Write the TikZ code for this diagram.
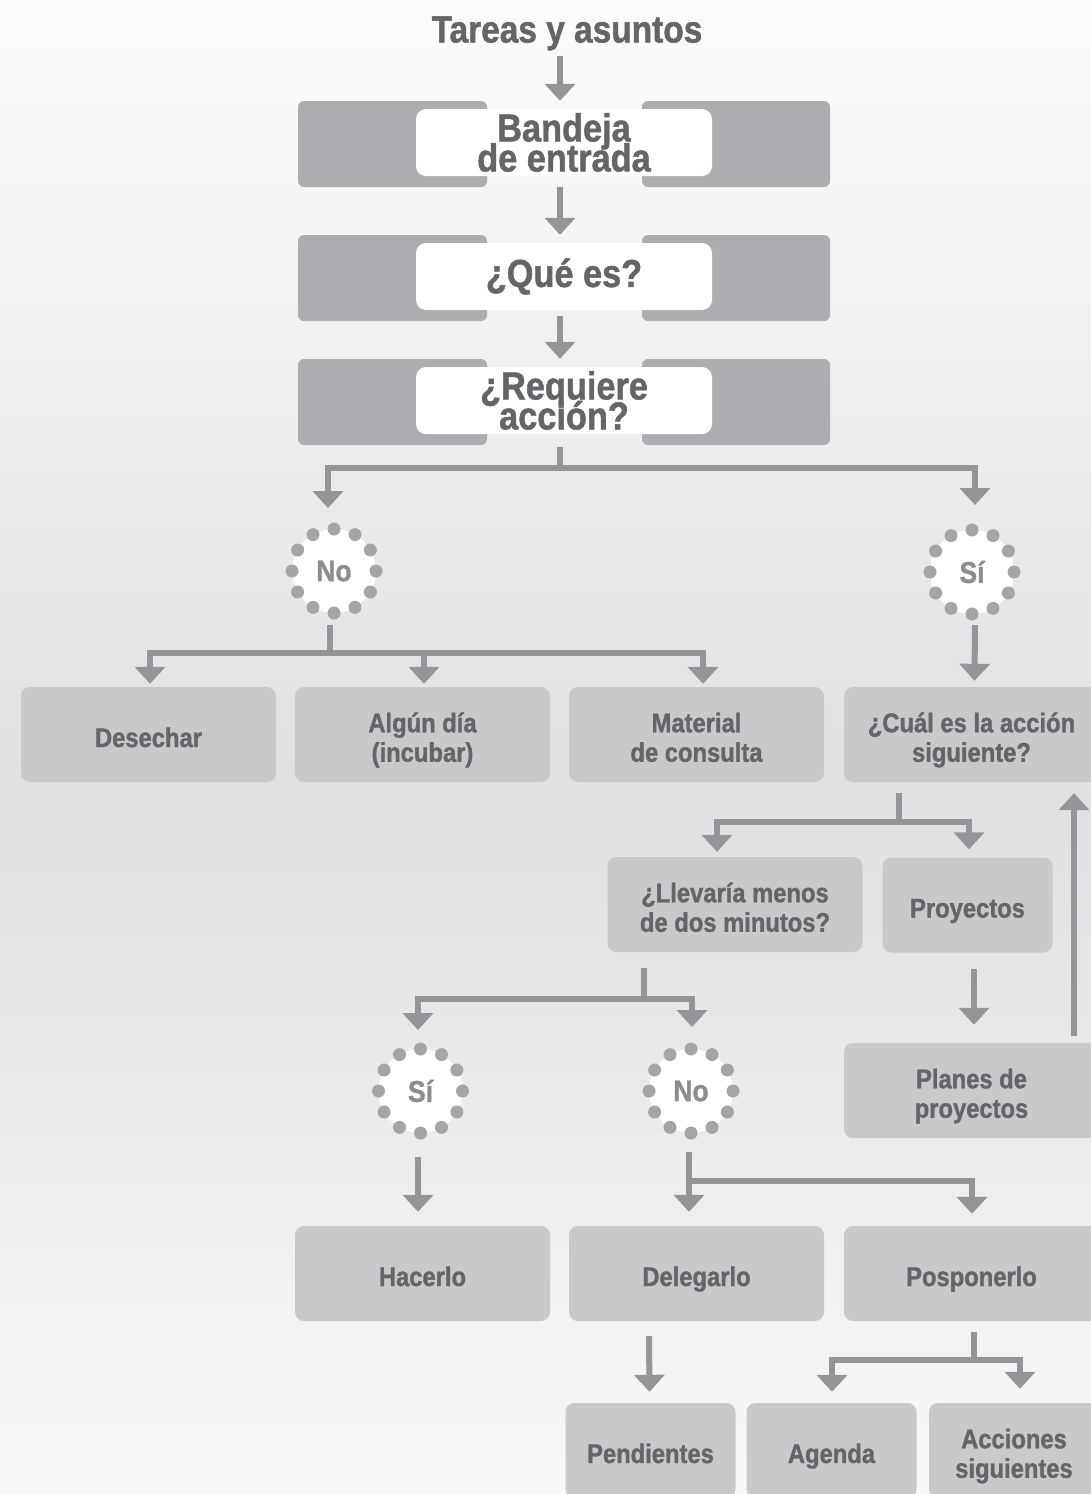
\documentclass[tikz,border=0pt]{standalone}
\usepackage{fontspec}
\setmainfont{Liberation Sans}[FakeStretch=0.88,BoldFeatures={FakeBold=1.2}]
\usetikzlibrary{arrows.meta,calc}
\definecolor{gtink}{RGB}{100,101,104}
\definecolor{gtsoft}{RGB}{139,141,144}
\definecolor{gtbox}{RGB}{200,201,203}
\definecolor{gttray}{RGB}{171,173,176}
\definecolor{gtline}{RGB}{147,149,152}
\definecolor{gtdot}{RGB}{163,165,168}
\definecolor{gttop}{RGB}{252,252,252}
\definecolor{gtmid}{RGB}{223,224,225}
\definecolor{gtbot}{RGB}{248,248,248}
% tight two-line labels: keep the baselineskip even when lines touch
\lineskiplimit=-100pt
\tikzset{
    tray/.style={
        fill=white,rounded corners=10pt,minimum width=296pt,minimum height=67pt,
        inner sep=0pt,align=center,text=gtink,
        font=\fontsize{39}{30}\selectfont\bfseries
    },
    stage/.style={
        fill=gtbox,rounded corners=9pt,minimum width=#1,minimum height=95pt,
        text width=#1,inner sep=0pt,align=flush center,text=gtink,
        font=\fontsize{27}{29.5}\selectfont\bfseries,
        execute at begin node={\rule{0pt}{31pt}},
        execute at end node={\rule[-6pt]{0pt}{6pt}}
    },
    stage/.default=255pt,
    answer/.style={
        circle,fill=white,minimum size=84pt,inner sep=0pt,outer sep=6pt,
        text=gtsoft,font=\fontsize{30}{30}\selectfont\bfseries
    },
    flow/.style={
        draw=gtline,line width=6pt,-{Triangle[width=30pt,length=17pt]}
    }
}

\begin{document}
\begin{tikzpicture}[x=1pt,y=-1pt]

\useasboundingbox (0,0) rectangle (1091,1494);
\clip (0,0) rectangle (1091,1494);
\fill[top color=gttop,bottom color=gtmid] (0,0) rectangle (1091,801);
\fill[top color=gtmid,bottom color=gtbot] (0,800) rectangle (1091,1494);

% title and the three trays
\node[text=gtink,font=\fontsize{38}{38}\selectfont\bfseries,inner sep=0pt,anchor=base]
(title) at (567,42.5) {Tareas y asuntos};

\foreach \y in {144,278,402}{
    \fill[gttray,rounded corners=6pt] (298,\y-43) rectangle (487,\y+43);
    \fill[gttray,rounded corners=6pt] (642,\y-43) rectangle (830,\y+43);
}
\node[tray] (bandeja) at (564,142.5) {Bandeja\\de entrada};
\node[tray] (quees) at (564,276.5) {¿Qué es?};
\node[tray] (requiere) at (564,400.5) {¿Requiere\\acción?};

% yes / no answers
\node[answer] (no) at (334,571) {No};
\node[answer] (si) at (972,572) {Sí};
\node[answer] (sib) at (420.5,1091) {Sí};
\node[answer] (nob) at (691,1091) {No};
\foreach \n in {no,si,sib,nob}{
    \foreach \a in {0,30,...,330}{
        \fill[gtdot] (\n) ++(\a:42) circle (6.5);
    }
}

% stages
\node[stage] (desechar) at (148.5,734.5) {Desechar};
\node[stage] (algun) at (422.5,734.5) {Algún día\\(incubar)};
\node[stage] (material) at (696.5,734.5) {Material\\de consulta};
\node[stage] (cual) at (971.5,734.5) {¿Cuál es la acción\\siguiente?};
\node[stage] (llevaria) at (735,904.5) {¿Llevaría menos\\de dos minutos?};
\node[stage=170pt] (proyectos) at (967.5,905) {Proyectos};
\node[stage] (planes) at (971.5,1090.5) {Planes de\\proyectos};
\node[stage] (hacerlo) at (422.5,1273.5) {Hacerlo};
\node[stage] (delegarlo) at (696.5,1273.5) {Delegarlo};
\node[stage] (posponerlo) at (971.5,1273.5) {Posponerlo};
\node[stage=170pt] (pendientes) at (650.5,1450.5) {Pendientes};
\node[stage=170pt] (agenda) at (831.5,1450.5) {Agenda};
\node[stage=170pt] (acciones) at (1014,1450.5) {Acciones\\siguientes};

% arrows
\draw[flow] ($(title.south -| bandeja.north)+(-4,5)$) -- ($(bandeja.north)+(-4,-8)$);
\draw[flow] ($(bandeja.south)+(-4,11)$) -- ($(quees.north)+(-4,-8)$);
\draw[flow] ($(quees.south)+(-4,6)$) -- ($(requiere.north)+(-4,-8)$);
\draw[flow] ($(requiere.south)+(-4,13)$) -- ++(0,21) -| ($(no.north)+(-6,-15)$);
\draw[flow] ($(requiere.south)+(-4,13)$) -- ++(0,21) -| ($(si.north)+(3,-19)$);

\draw[flow] ($(no.south)+(-4,6)$) -- ++(0,28) -| ($(desechar.north)+(1.5,-3)$);
\draw[flow] ($(no.south)+(-4,6)$) -- ++(0,28) -| ($(algun.north)+(1.5,-3)$);
\draw[flow] ($(no.south)+(-4,6)$) -- ++(0,28) -| ($(material.north)+(6.5,-3)$);
\draw[flow] ($(si.south)+(3,5)$) -- ($(cual.north)+(3,-6)$);

\draw[flow] ($(cual.south)+(-72.5,11)$) -- ++(0,29) -| ($(llevaria.north)+(-18,-5)$);
\draw[flow] ($(cual.south)+(-72.5,11)$) -- ++(0,29) -| ($(proyectos.north)+(1.5,-8)$);
\draw[flow] ($(proyectos.south)+(6.5,16)$) -- ($(planes.north)+(2.5,-18)$);
\draw[flow] ($(planes.north)+(102.5,-7)$) -- ($(cual.south)+(102.5,11)$);

\draw[flow] ($(llevaria.south)+(-91,16)$) -- ++(0,31) -| ($(sib.north)+(-2.5,-13)$);
\draw[flow] ($(llevaria.south)+(-91,16)$) -- ++(0,31) -| ($(nob.north)+(1,-16)$);
\draw[flow] ($(sib.south)+(-2.5,18)$) -- ($(hacerlo.north)+(-4.5,-14)$);
\draw[flow] ($(nob.south)+(-2,13)$) -- ($(delegarlo.north)+(-7.5,-14)$);
\draw[flow] ($(nob.south)+(-2,13)$) -- ++(0,29) -| ($(posponerlo.north)+(0.5,-12)$);

\draw[flow] ($(delegarlo.south)+(-47.5,15)$) -- ($(pendientes.north)+(-1,-11)$);
\draw[flow] ($(posponerlo.south)+(2.5,11)$) -- ++(0,28) -| ($(agenda.north)+(0.5,-11)$);
\draw[flow] ($(posponerlo.south)+(2.5,11)$) -- ++(0,28) -| ($(acciones.north)+(6,-14)$);

\end{tikzpicture}
\end{document}
